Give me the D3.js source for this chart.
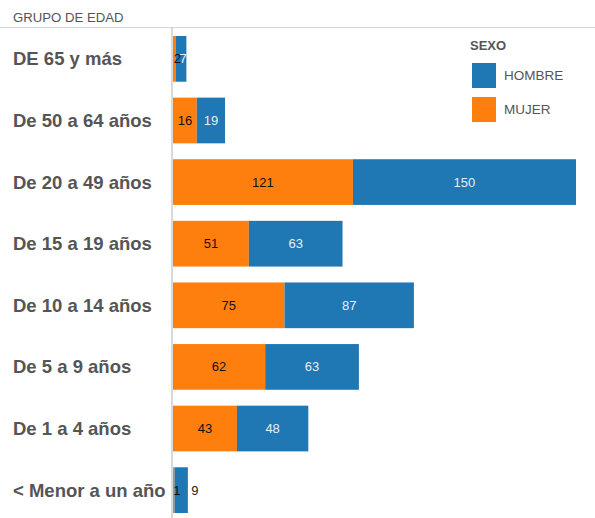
<!DOCTYPE html>
<html>
<head>
<meta charset="utf-8">
<script src="https://cdn.jsdelivr.net/npm/d3@7"></script>
<style>
  body { margin: 0; background: #fff; }
  svg { font-family: "Liberation Sans", Arial, sans-serif; }
</style>
</head>
<body>
<svg id="chart" width="595" height="518"></svg>
<script>
// age groups top to bottom
const groups = ["DE 65 y más", "De 50 a 64 años", "De 20 a 49 años", "De 15 a 19 años",
  "De 10 a 14 años", "De 5 a 9 años", "De 1 a 4 años", "< Menor a un año"];
const mujer = [2, 16, 121, 51, 75, 62, 43, 1];
const hombre = [7, 19, 150, 63, 87, 63, 48, 9];
const sexos = ["HOMBRE", "MUJER"];
const colores = ["#1f77b4", "#ff7f0e"];

const svg = d3.select("#chart");
const x0 = 173;

const x = d3.scaleLinear().domain([0, 271]).range([x0, 576]);
const y = d3.scaleBand().domain(groups).range([28, 521]).paddingInner(0.258).paddingOuter(0.13);

// header
svg.append("text").attr("x", 13).attr("y", 22).attr("font-size", 13.2).attr("fill", "#555").text("GRUPO DE EDAD");
svg.append("line").attr("x1", 0).attr("x2", 595).attr("y1", 27.5).attr("y2", 27.5).attr("stroke", "#d6d6d6");
svg.append("line").attr("x1", x0 - 1).attr("x2", x0 - 1).attr("y1", 27).attr("y2", 518).attr("stroke", "#ccc").attr("stroke-width", 1.5);

// row labels
svg.selectAll(".lbl").data(groups).enter().append("text")
  .attr("x", 13).attr("y", d => y(d) + y.bandwidth() / 2 + 6.5)
  .attr("font-size", 18.5).attr("font-weight", "bold").attr("fill", "#555")
  .text(d => d);

const rows = groups.map((g, i) => ({ g, m: mujer[i], h: hombre[i] }));

// mujer segments
svg.selectAll(".m").data(rows).enter().append("rect")
  .attr("x", x(0)).attr("y", d => y(d.g))
  .attr("width", d => x(d.m) - x(0)).attr("height", y.bandwidth())
  .attr("fill", colores[1]);

// hombre segments
svg.selectAll(".h").data(rows).enter().append("rect")
  .attr("x", d => x(d.m)).attr("y", d => y(d.g))
  .attr("width", d => x(d.m + d.h) - x(d.m)).attr("height", y.bandwidth())
  .attr("fill", colores[0]);

// value labels
svg.selectAll(".mv").data(rows).enter().append("text")
  .attr("x", d => d.m < 3 ? x(d.m / 2) + 3 : (x(0) + x(d.m)) / 2)
  .attr("y", d => y(d.g) + y.bandwidth() / 2 + 4.5)
  .attr("text-anchor", "middle").attr("font-size", 13).attr("fill", "#111")
  .text(d => d.m);

svg.selectAll(".hv").data(rows).enter().append("text")
  .attr("x", d => d.h < 8 ? x(d.m + d.h / 2) + 2 : (d.h < 10 ? x(d.m + d.h) + 7 : (x(d.m) + x(d.m + d.h)) / 2))
  .attr("y", d => y(d.g) + y.bandwidth() / 2 + 4.5)
  .attr("text-anchor", "middle").attr("font-size", 13)
  .attr("fill", d => d.h < 10 && d.h >= 8 ? "#222" : "#e8eef5")
  .text(d => d.h);

// legend
const lg = svg.append("g");
lg.append("text").attr("x", 470).attr("y", 50).attr("font-size", 13).attr("font-weight", "bold").attr("fill", "#555").text("SEXO");
sexos.forEach((s, i) => {
  lg.append("rect").attr("x", 472).attr("y", 63 + i * 34).attr("width", 24).attr("height", 25).attr("fill", colores[i]);
  lg.append("text").attr("x", 504).attr("y", 80 + i * 34).attr("font-size", 13.5).attr("fill", "#555").text(s);
});
</script>
</body>
</html>
